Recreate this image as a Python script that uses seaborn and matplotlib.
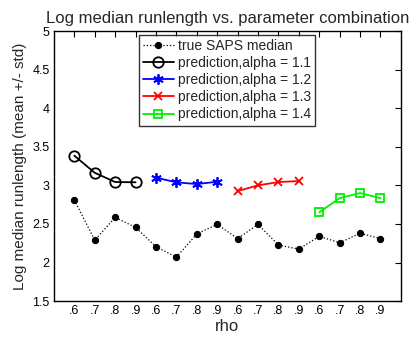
import numpy as np
import matplotlib
matplotlib.use("Agg")
import matplotlib.pyplot as plt
import seaborn as sns

# values
rho_labels = ['.6', '.7', '.8', '.9'] * 4
true_median = [2.81, 2.29, 2.585, 2.455,
               2.205, 2.07, 2.37, 2.495,
               2.31, 2.495, 2.226, 2.174,
               2.34, 2.256, 2.38, 2.31]
pred_11 = [3.384, 3.163, 3.043, 3.04]
pred_12 = [3.10, 3.039, 3.017, 3.047]
pred_13 = [2.926, 3.0, 3.043, 3.056]
pred_14 = [2.65, 2.835, 2.90, 2.835]

sns.set_style("white")
plt.rcParams['font.family'] = ['Liberation Sans', 'DejaVu Sans']

fig = plt.figure(figsize=(4.15, 3.41), dpi=100)
ax = fig.add_axes([0.130, 0.117, 0.836, 0.792])

x_all = np.arange(1, 17)
sns.lineplot(x=x_all, y=true_median, ax=ax, color='black', linestyle=':', linewidth=0.9,
             marker='o', markersize=4.5, markeredgecolor='black', label='true SAPS median')
sns.lineplot(x=x_all[0:4], y=pred_11, ax=ax, color='black', linewidth=1.3,
             marker='o', markersize=7.5, markerfacecolor='none', markeredgewidth=1.3,
             markeredgecolor='black', label='prediction,alpha = 1.1')
sns.lineplot(x=x_all[4:8], y=pred_12, ax=ax, color='blue', linewidth=1.3,
             marker=(6, 2, 0), markersize=7.5, markeredgewidth=1.3, markeredgecolor='blue',
             label='prediction,alpha = 1.2')
sns.lineplot(x=x_all[8:12], y=pred_13, ax=ax, color='red', linewidth=1.3,
             marker='x', markersize=6, markeredgewidth=1.3, markeredgecolor='red',
             label='prediction,alpha = 1.3')
sns.lineplot(x=x_all[12:16], y=pred_14, ax=ax, color='#00ee00', linewidth=1.3,
             marker='s', markersize=6, markerfacecolor='none', markeredgewidth=1.3,
             markeredgecolor='#00ee00', label='prediction,alpha = 1.4')

ax.set_xlim(0, 17)
ax.set_ylim(1.5, 5)
ax.set_xticks(x_all)
ax.set_xticklabels(rho_labels)
ax.set_yticks([1.5, 2, 2.5, 3, 3.5, 4, 4.5, 5])
ax.set_yticklabels(['1.5', '2', '2.5', '3', '3.5', '4', '4.5', '5'])
ax.tick_params(direction='in', top=True, right=True, length=4, width=0.8,
               labelsize=9, colors='black', pad=3)
for s in ax.spines.values():
    s.set_color('black')
    s.set_linewidth(1)

ax.set_xlabel('rho', fontsize=12, labelpad=1)
ax.set_ylabel('Log median runlength (mean +/- std)', fontsize=11, labelpad=4)
ax.set_title('Log median runlength vs. parameter combination', fontsize=12, pad=6)

leg = ax.legend(loc='upper left', bbox_to_anchor=(139 / 415, 1 - 35 / 341),
                bbox_transform=fig.transFigure, fontsize=10, frameon=True,
                fancybox=False, handlelength=2.2, handletextpad=0.3,
                borderpad=0.3, labelspacing=0.22, borderaxespad=0)
leg.get_frame().set_edgecolor('black')
leg.get_frame().set_linewidth(1)

fig.savefig('out.png', dpi=100)
